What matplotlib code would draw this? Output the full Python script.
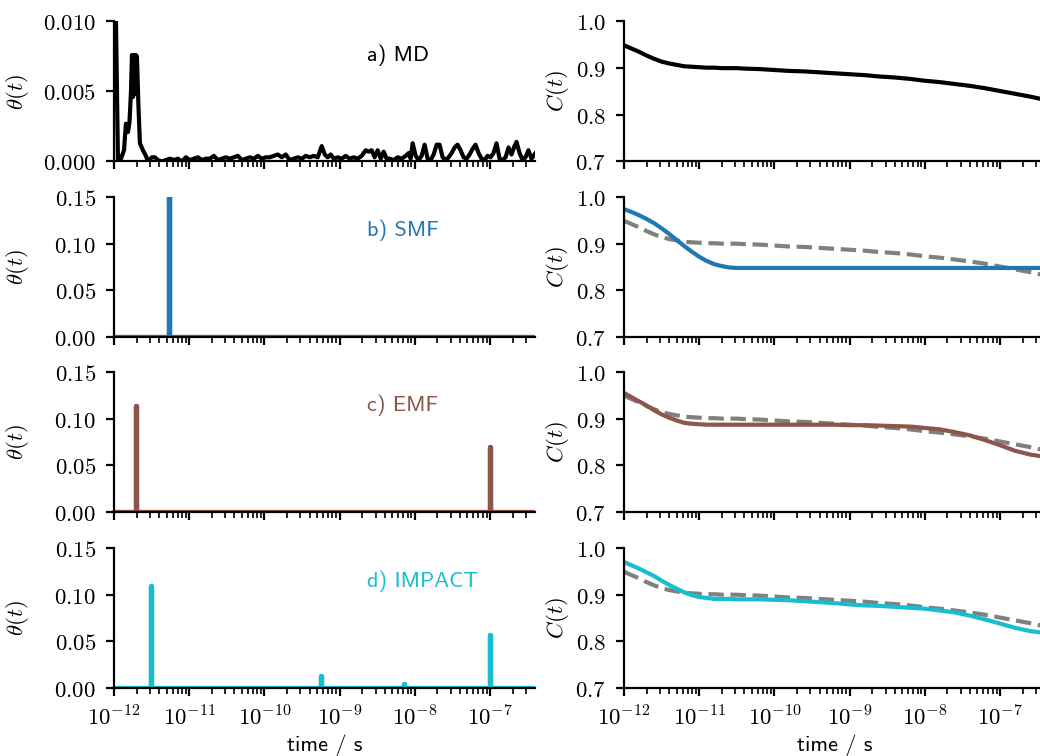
import matplotlib
matplotlib.use('Agg')
import matplotlib.pyplot as plt
from matplotlib.ticker import FuncFormatter, NullFormatter
import numpy as np

plt.rcParams['font.size'] = 8.2
plt.rcParams['mathtext.fontset'] = 'cm'
plt.rcParams['mathtext.default'] = 'rm'
plt.rcParams['axes.linewidth'] = 0.8
plt.rcParams['xtick.major.width'] = 0.8
plt.rcParams['ytick.major.width'] = 0.8
plt.rcParams['xtick.minor.width'] = 0.6
plt.rcParams['xtick.major.size'] = 3
plt.rcParams['ytick.major.size'] = 3
plt.rcParams['xtick.minor.size'] = 2

# time axis (log10 of seconds) for the C(t) curves
c_logt = [-12.0, -11.9, -11.8, -11.7, -11.6, -11.5, -11.4, -11.3, -11.2, -11.1,
          -11.0, -10.9, -10.8, -10.7, -10.6, -10.5, -10.4,
          -10.2, -10.0, -9.8, -9.6, -9.4, -9.2, -9.0, -8.8, -8.6, -8.4,
          -8.2, -8.0, -7.8, -7.6, -7.4, -7.2, -7.0, -6.8, -6.6, -6.4]

c_md = [0.949, 0.942, 0.935, 0.927, 0.920, 0.914, 0.910, 0.907, 0.904, 0.903,
        0.902, 0.901, 0.901, 0.900, 0.900, 0.900, 0.899,
        0.898, 0.896, 0.894, 0.893, 0.891, 0.889, 0.887, 0.885, 0.882, 0.880,
        0.877, 0.873, 0.870, 0.866, 0.862, 0.857, 0.851, 0.845, 0.839, 0.832]
c_smf = [0.974, 0.968, 0.961, 0.953, 0.944, 0.933, 0.921, 0.908, 0.895, 0.883,
         0.872, 0.863, 0.856, 0.852, 0.849, 0.848, 0.848,
         0.848, 0.848, 0.848, 0.848, 0.848, 0.848, 0.848, 0.848, 0.848, 0.848,
         0.848, 0.848, 0.848, 0.848, 0.848, 0.848, 0.848, 0.848, 0.848, 0.848]
c_emf = [0.955, 0.946, 0.937, 0.928, 0.918, 0.909, 0.902, 0.896, 0.891, 0.889,
         0.888, 0.887, 0.887, 0.887, 0.887, 0.887, 0.887,
         0.887, 0.887, 0.887, 0.887, 0.887, 0.887, 0.886, 0.886, 0.885, 0.884,
         0.883, 0.880, 0.877, 0.871, 0.864, 0.854, 0.843, 0.831, 0.823, 0.818]
c_impact = [0.970, 0.963, 0.956, 0.948, 0.940, 0.930, 0.921, 0.913, 0.905, 0.899,
            0.895, 0.893, 0.891, 0.891, 0.891, 0.890, 0.890,
            0.890, 0.889, 0.888, 0.886, 0.884, 0.882, 0.879, 0.877, 0.876, 0.874,
            0.872, 0.870, 0.866, 0.862, 0.855, 0.847, 0.838, 0.829, 0.822, 0.818]

# MD distribution theta(t), log10 t and values
md_logt = [-12.000, -11.947, -11.907, -11.867, -11.841, -11.814, -11.794, -11.774,
           -11.761, -11.748, -11.734, -11.721, -11.708, -11.695, -11.675, -11.655,
           -11.615, -11.575, -11.548, -11.495, -11.456, -11.416, -11.363, -11.309,
           -11.256, -11.203, -11.150, -11.097, -11.044, -10.991, -10.938, -10.884,
           -10.831, -10.778, -10.725, -10.672, -10.619, -10.566, -10.513, -10.459,
           -10.406, -10.353, -10.300, -10.247, -10.194, -10.141, -10.088, -10.035,
           -9.981, -9.928, -9.875, -9.822, -9.769, -9.716, -9.663, -9.610,
           -9.556, -9.503, -9.450, -9.397, -9.344, -9.291, -9.238, -9.198,
           -9.158, -9.118, -9.078, -9.025, -8.972, -8.919, -8.866, -8.813,
           -8.760, -8.707, -8.653, -8.614, -8.574, -8.534, -8.494, -8.454,
           -8.414, -8.375, -8.335, -8.282, -8.228, -8.175, -8.122, -8.082,
           -8.056, -8.029, -7.989, -7.950, -7.910, -7.870, -7.830, -7.790,
           -7.750, -7.710, -7.671, -7.631, -7.591, -7.551, -7.511, -7.471,
           -7.432, -7.392, -7.352, -7.312, -7.272, -7.232, -7.193, -7.153,
           -7.113, -7.073, -7.033, -6.993, -6.954, -6.914, -6.874, -6.834,
           -6.794, -6.754, -6.714, -6.675, -6.648, -6.608, -6.568, -6.529,
           -6.489, -6.449, -6.396]
md_theta = [0.0200, 0.0000, 0.0002, 0.0008, 0.0027, 0.0021, 0.0028, 0.0050,
            0.0076, 0.0046, 0.0076, 0.0048, 0.0076, 0.0075, 0.0040, 0.0013,
            0.0008, 0.0004, 0.0000, 0.0003, 0.0003, 0.0001, 0.0000, 0.0001,
            0.0002, 0.0001, 0.0002, 0.0000, 0.0003, 0.0001, 0.0002, 0.0003,
            0.0001, 0.0002, 0.0002, 0.0004, 0.0001, 0.0002, 0.0003, 0.0002,
            0.0003, 0.0004, 0.0001, 0.0002, 0.0003, 0.0002, 0.0004, 0.0002,
            0.0003, 0.0003, 0.0004, 0.0005, 0.0003, 0.0005, 0.0001, 0.0002,
            0.0003, 0.0002, 0.0004, 0.0003, 0.0004, 0.0003, 0.0011, 0.0005,
            0.0003, 0.0005, 0.0002, 0.0003, 0.0002, 0.0004, 0.0002, 0.0003,
            0.0002, 0.0004, 0.0008, 0.0007, 0.0008, 0.0003, 0.0008, 0.0002,
            0.0007, 0.0002, 0.0002, 0.0001, 0.0003, 0.0002, 0.0004, 0.0006,
            0.0002, 0.0013, 0.0004, 0.0001, 0.0004, 0.0012, 0.0002, 0.0001,
            0.0005, 0.0012, 0.0012, 0.0003, 0.0001, 0.0003, 0.0006, 0.0010,
            0.0012, 0.0008, 0.0003, 0.0002, 0.0005, 0.0009, 0.0012, 0.0006,
            0.0002, 0.0001, 0.0004, 0.0003, 0.0006, 0.0013, 0.0002, 0.0001,
            0.0003, 0.0010, 0.0005, 0.0011, 0.0014, 0.0006, 0.0001, 0.0003,
            0.0008, 0.0002, 0.0006]

# fitted time constants and amplitudes
smf_tau = [5.4e-12]
smf_amp = [0.152]
emf_tau = [1.95e-12, 1.0e-7]
emf_amp = [0.113, 0.070]
impact_tau = [3.1e-12, 5.7e-10, 7.2e-9, 1.0e-7]
impact_amp = [0.109, 0.013, 0.004, 0.057]

t_min, t_max = 1e-12, 10 ** -6.4

labels = ['a) MD', 'b) SMF', 'c) EMF', 'd) IMPACT']
colors = ['black', '#1f77b4', '#8c564b', '#17becf']


def spike_xy(tau, amp):
    xs, ys = [t_min], [0.0]
    for t, a in zip(tau, amp):
        xs += [t, t, t]
        ys += [0.0, a, 0.0]
    xs.append(t_max)
    ys.append(0.0)
    return xs, ys


def fixed(fmt):
    return FuncFormatter(lambda v, p: '$' + (fmt % v) + '$')


log_fmt = FuncFormatter(lambda v, p: r'$10^{%d}$' % int(round(np.log10(v))))

fig = plt.figure(figsize=(5.2, 3.78), dpi=200)
bottoms = [0.7864, 0.5542, 0.3228, 0.0899]
h = 0.1852
ct = 10 ** np.array(c_logt)
c_curves = [c_md, c_smf, c_emf, c_impact]
spikes = [None, (smf_tau, smf_amp), (emf_tau, emf_amp), (impact_tau, impact_amp)]

for i in range(4):
    axl = fig.add_axes([0.1096, bottoms[i], 0.405, h])
    axr = fig.add_axes([0.6, bottoms[i], 0.405, h])
    for ax in (axl, axr):
        ax.set_xscale('log')
        ax.set_xlim(t_min, t_max)
        ax.xaxis.set_major_formatter(log_fmt)
        ax.xaxis.set_minor_formatter(NullFormatter())
        ax.spines['top'].set_visible(False)
        ax.spines['right'].set_visible(False)
        if i < 3:
            ax.tick_params(axis='x', which='both', labelbottom=False)
        else:
            ax.set_xlabel('time / s', family='cmss10', fontsize=8, labelpad=1.5)

    if i == 0:
        axl.plot(10 ** np.array(md_logt), md_theta, color='black', lw=1.5)
        axl.set_ylim(0, 0.010)
        axl.set_yticks([0.0, 0.005, 0.010])
        axl.yaxis.set_major_formatter(fixed('%.3f'))
    else:
        xs, ys = spike_xy(*spikes[i])
        axl.plot(xs, ys, color=colors[i], lw=1.9)
        axl.set_ylim(0, 0.15)
        axl.set_yticks([0.0, 0.05, 0.10, 0.15])
        axl.yaxis.set_major_formatter(fixed('%.2f'))
    axl.set_ylabel(r'$\theta(\mathit{t})$')
    axl.yaxis.set_label_coords(-0.197, 0.5)
    axl.text(0.6, 0.76, labels[i], transform=axl.transAxes, color=colors[i],
             family='cmss10', fontsize=8, va='center')

    if i > 0:
        axr.plot(ct, c_md, color='gray', lw=1.5, ls='--')
    axr.plot(ct, c_curves[i], color=colors[i], lw=1.5)
    axr.set_ylim(0.7, 1.0)
    axr.set_yticks([0.7, 0.8, 0.9, 1.0])
    axr.yaxis.set_major_formatter(fixed('%.1f'))
    axr.set_ylabel(r'$\mathit{C}(\mathit{t})$')
    axr.yaxis.set_label_coords(-0.126, 0.5)

fig.savefig('out.png', dpi=200)
